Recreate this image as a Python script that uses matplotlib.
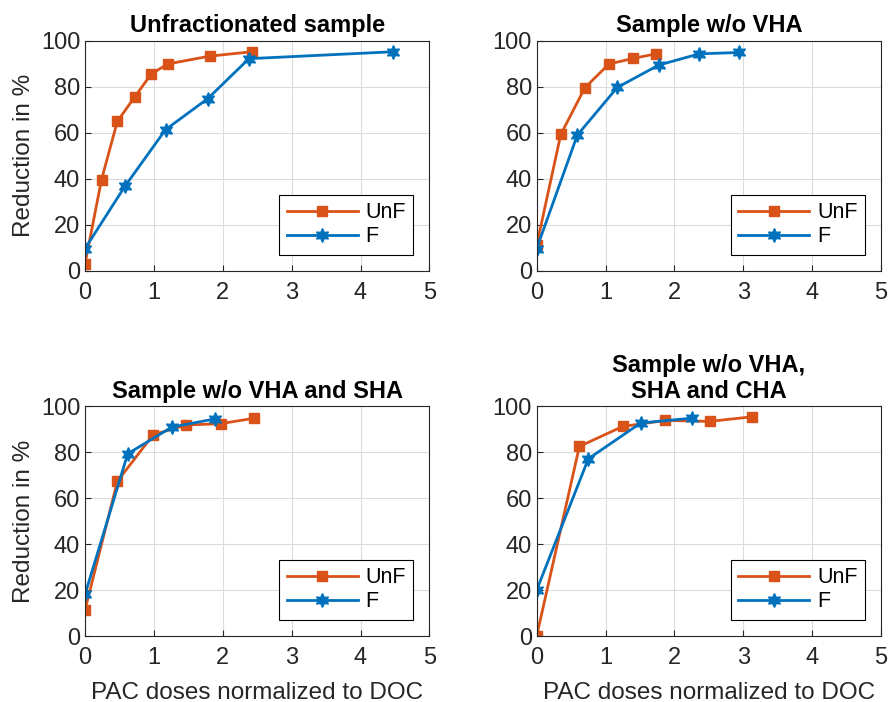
import numpy as np
import matplotlib
matplotlib.use("Agg")
import matplotlib.pyplot as plt

plt.rcParams['font.family'] = ['Liberation Sans', 'DejaVu Sans']

# PAC doses normalized to DOC (x) and reduction in % (y)
titles = ['Unfractionated sample', 'Sample w/o VHA',
          'Sample w/o VHA and SHA', 'Sample w/o VHA,\nSHA and CHA']

unf_x = [
    [0, 0.24, 0.47, 0.72, 0.96, 1.2, 1.81, 2.42],
    [0, 0.35, 0.70, 1.05, 1.40, 1.73],
    [0, 0.47, 0.99, 1.47, 1.97, 2.46],
    [0, 0.62, 1.25, 1.87, 2.51, 3.13],
]
unf_y = [
    [3, 39.7, 65, 75.5, 85.5, 89.9, 93.3, 95.2],
    [11.2, 59.3, 79.6, 89.9, 92.3, 94.3],
    [11.3, 67.4, 87.7, 91.9, 92.5, 94.9],
    [0, 82.6, 91.3, 93.9, 93.5, 95.5],
]
f_x = [
    [0, 0.58, 1.17, 1.78, 2.38, 4.47],
    [0, 0.59, 1.17, 1.77, 2.36, 2.94],
    [0, 0.62, 1.26, 1.89],
    [0, 0.75, 1.51, 2.25],
]
f_y = [
    [9.7, 36.8, 61.4, 74.8, 92.2, 95.2],
    [9.7, 59.0, 79.7, 89.4, 94.3, 94.9],
    [18.1, 79.4, 91.0, 94.6],
    [20.0, 77.2, 92.8, 94.9],
]

orange = '#D95319'
blue = '#0072BD'
dark = '#262626'

fig = plt.figure(figsize=(8.9, 7.02), dpi=100)
positions = [
    [0.0955, 0.614, 0.387, 0.328],
    [0.603, 0.614, 0.387, 0.328],
    [0.0955, 0.094, 0.387, 0.327],
    [0.603, 0.094, 0.387, 0.327],
]

for i in range(4):
    ax = fig.add_axes(positions[i])
    ax.plot(unf_x[i], unf_y[i], color=orange, lw=2, marker='s', ms=7, label='UnF')
    ax.plot(f_x[i], f_y[i], color=blue, lw=2, marker=(6, 1, 0), ms=10, label='F')
    ax.set_xlim(0, 5)
    ax.set_ylim(0, 100)
    ax.set_xticks(range(0, 6))
    ax.set_yticks(range(0, 101, 20))
    ax.grid(True, color='#dcdcdc', lw=0.8)
    ax.set_axisbelow(True)
    ax.tick_params(direction='in', labelsize=17, colors=dark, length=4)
    ax.tick_params(axis='x', pad=8)
    for sp in ax.spines.values():
        sp.set_color(dark)
        sp.set_linewidth(0.8)
    ax.set_title(titles[i], fontsize=17, fontweight='bold', pad=6, linespacing=1.2)
    if i % 2 == 0:
        ax.set_ylabel('Reduction in %', fontsize=17.5, color=dark, labelpad=4)
    if i >= 2:
        ax.set_xlabel('PAC doses normalized to DOC', fontsize=17.5, color=dark, labelpad=9)
    leg = ax.legend(loc='lower right', fontsize=15.5, fancybox=False, framealpha=1,
                    edgecolor='black', borderaxespad=0.75, handlelength=3.3,
                    handletextpad=0.35, labelspacing=0.15, borderpad=0.35)
    leg.get_frame().set_linewidth(0.8)

fig.savefig('out.png', dpi=100)
